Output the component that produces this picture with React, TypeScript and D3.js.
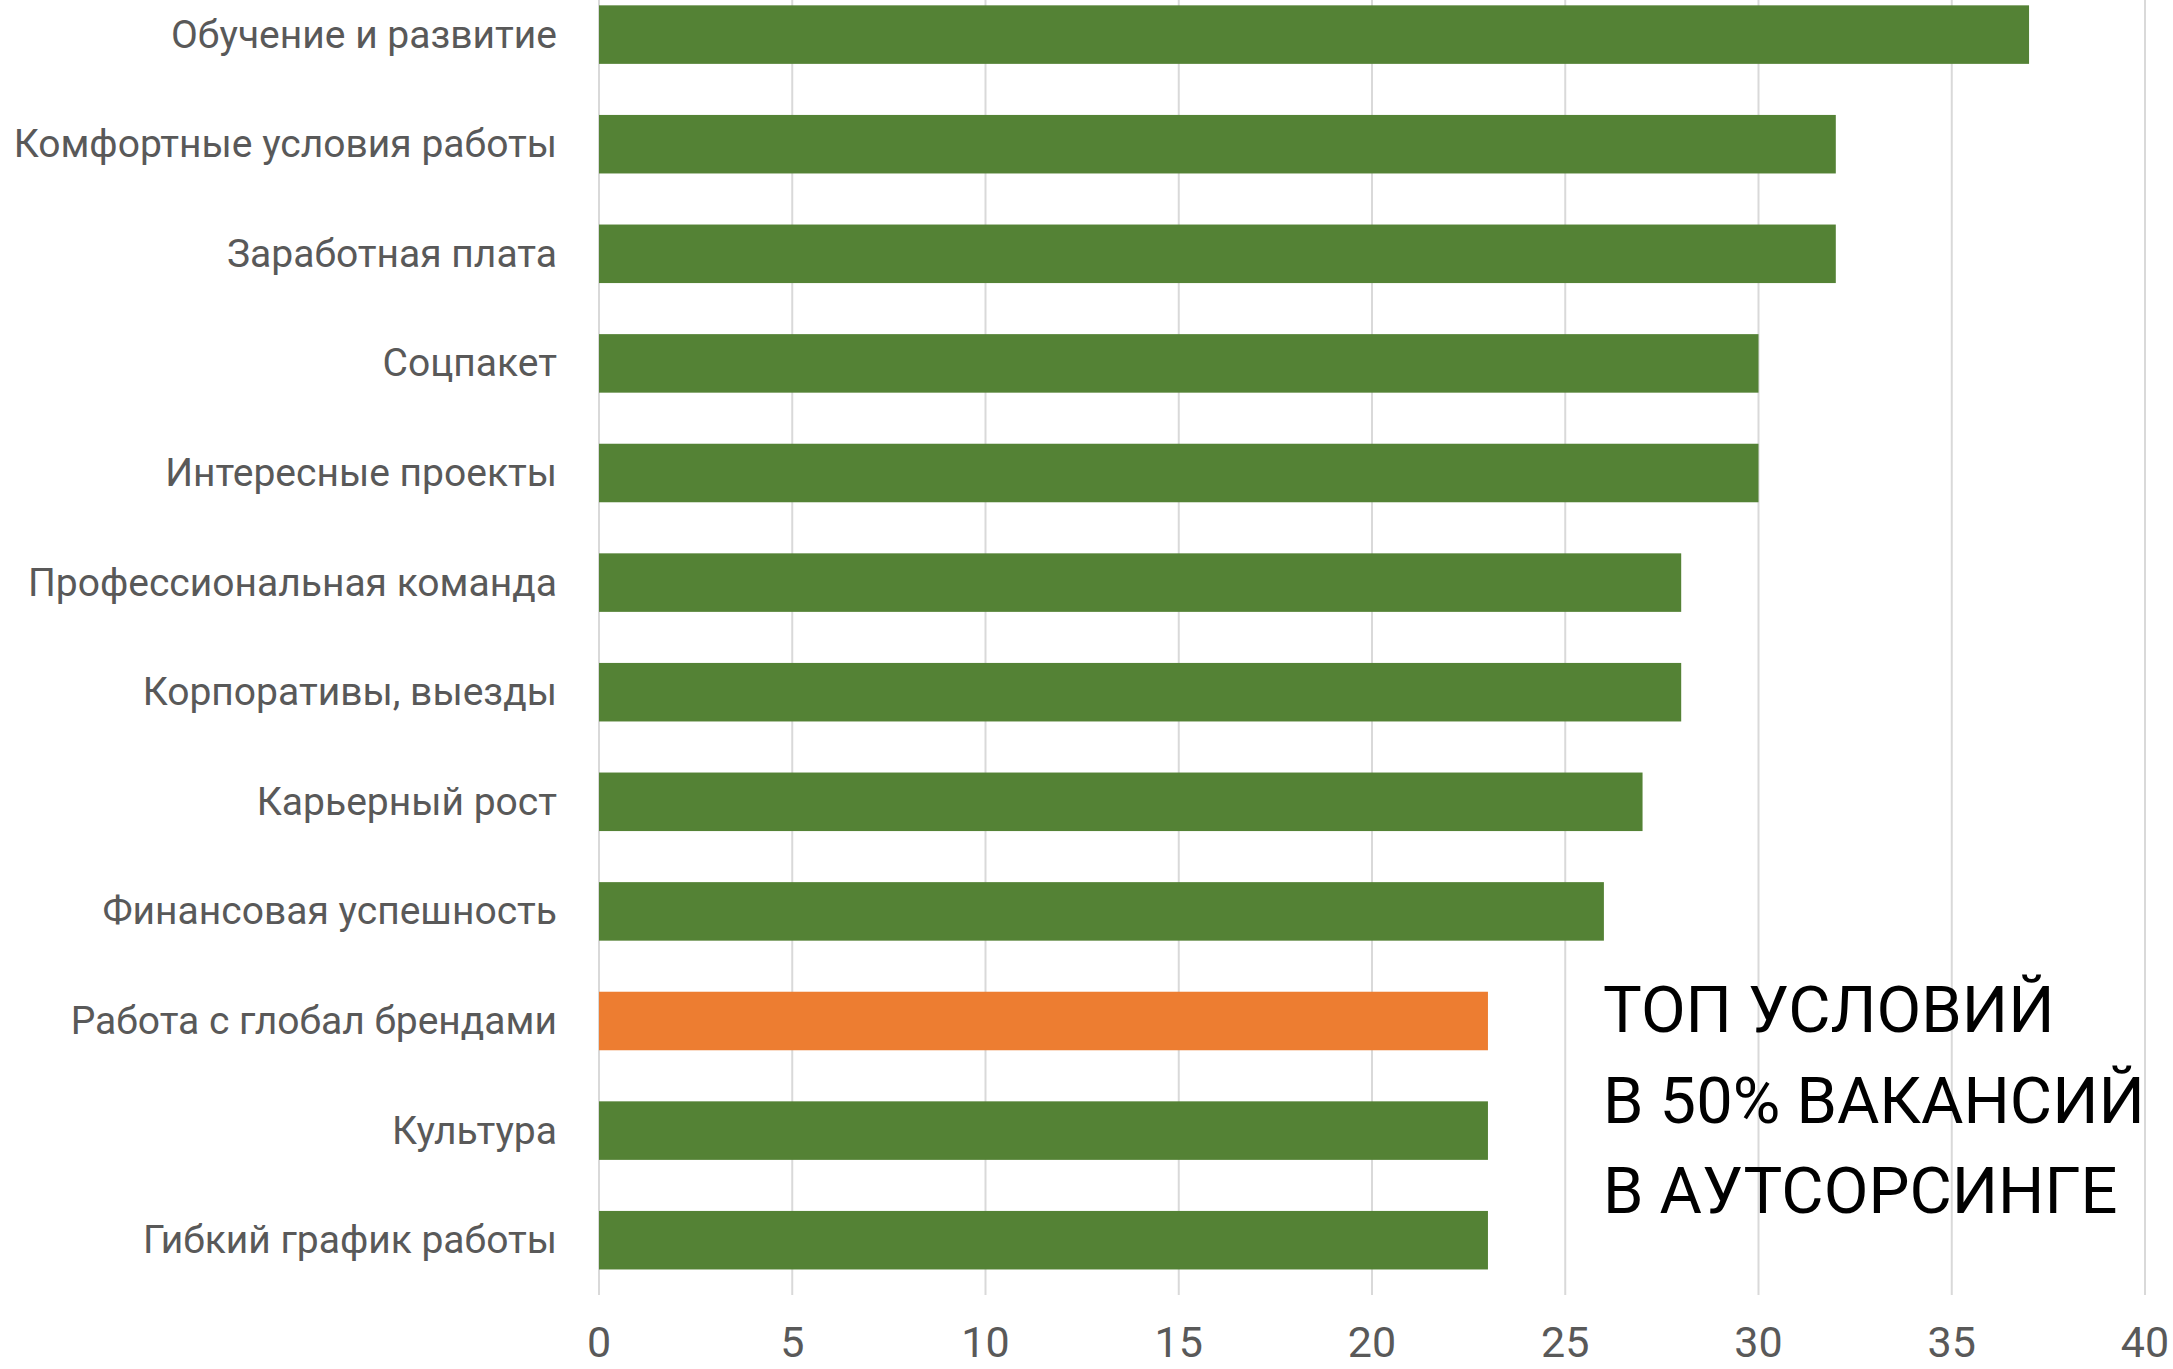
import React, { useEffect } from "react";
import * as d3 from "d3";

const categories = [
  "Обучение и развитие",
  "Комфортные условия работы",
  "Заработная плата",
  "Соцпакет",
  "Интересные проекты",
  "Профессиональная команда",
  "Корпоративы, выезды",
  "Карьерный рост",
  "Финансовая успешность",
  "Работа с глобал брендами",
  "Культура",
  "Гибкий график работы",
];
const values = [37, 32, 32, 30, 30, 28, 28, 27, 26, 23, 23, 23];
const highlighted = ["Работа с глобал брендами"];
const xTicks = [0, 5, 10, 15, 20, 25, 30, 35, 40];
const titleLines = ["ТОП УСЛОВИЙ", "В 50% ВАКАНСИЙ", "В АУТСОРСИНГЕ"];

const W = 2173;
const H = 1369;
const FONT = "Roboto, 'Open Sans', sans-serif";

export default function App() {
  useEffect(() => {
    document.body.style.margin = "0";
  }, []);

  const x = d3.scaleLinear().domain([0, 40]).range([599, 2145]);
  const y = d3
    .scaleBand<string>()
    .domain(categories)
    .range([-20.2, 1295])
    .paddingInner(0.466)
    .paddingOuter(0.233);

  const plotTop = -20;
  const plotBottom = 1295;

  return (
    <svg
      width={W}
      height={H}
      style={{ position: "absolute", left: 0, top: 0, background: "#fff" }}
      fontFamily={FONT}
    >
      <rect x={0} y={0} width={W} height={H} fill="#fff" />
      {xTicks.map((t) => (
        <line
          key={"g" + t}
          x1={x(t)}
          x2={x(t)}
          y1={plotTop}
          y2={plotBottom}
          stroke="#D9D9D9"
          strokeWidth={2}
        />
      ))}
      {categories.map((c, i) => (
        <rect
          key={"b" + c}
          x={x(0)}
          y={y(c)!}
          width={x(values[i]) - x(0)}
          height={y.bandwidth()}
          fill={highlighted.includes(c) ? "#ED7D31" : "#548235"}
        />
      ))}
      {categories.map((c) => (
        <text
          key={"l" + c}
          x={557}
          y={y(c)! + y.bandwidth() / 2}
          textAnchor="end"
          dominantBaseline="central"
          fontSize={39}
          fill="#595959"
        >
          {c}
        </text>
      ))}
      {xTicks.map((t) => (
        <text
          key={"t" + t}
          x={x(t)}
          y={1357}
          textAnchor="middle"
          fontSize={43}
          fill="#595959"
        >
          {t}
        </text>
      ))}
      {titleLines.map((s, i) => (
        <text
          key={"h" + i}
          x={1603}
          y={1032 + i * 90.5}
          fontSize={65}
          fill="#000"
        >
          {s}
        </text>
      ))}
    </svg>
  );
}
